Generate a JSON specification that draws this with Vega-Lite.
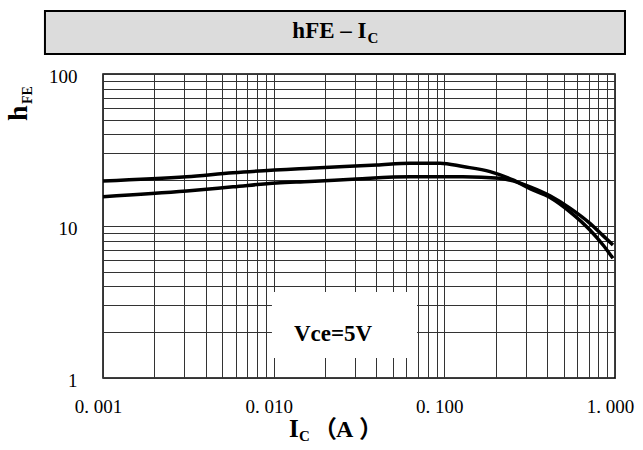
{
  "$schema": "https://vega.github.io/schema/vega-lite/v6.json",
  "width": 512,
  "height": 304,
  "autosize": {"type": "none"},
  "padding": {"left": 103, "top": 74, "right": 28, "bottom": 72},
  "background": "white",
  "config": {
    "view": {"stroke": "#000", "strokeWidth": 1.5},
    "axis": {
      "grid": true,
      "gridColor": "#333",
      "gridWidth": 1,
      "gridOpacity": 1,
      "ticks": false,
      "tickSize": 0,
      "domain": false,
      "labelFont": "'Liberation Serif', 'Times New Roman', serif",
      "labelFontSize": 19,
      "labelColor": "#000",
      "labelOverlap": false,
      "labelFlush": false
    },
    "text": {"font": "'Liberation Serif', 'Times New Roman', serif", "fontWeight": "bold", "color": "#000", "baseline": "alphabetic"}
  },
  "datasets": {
    "curves": [
      {"ic": 0.001, "hfe": 19.8, "curve": "upper"},
      {"ic": 0.00309, "hfe": 21.1, "curve": "upper"},
      {"ic": 0.00578, "hfe": 22.4, "curve": "upper"},
      {"ic": 0.0163, "hfe": 24.0, "curve": "upper"},
      {"ic": 0.0402, "hfe": 25.2, "curve": "upper"},
      {"ic": 0.063, "hfe": 25.9, "curve": "upper"},
      {"ic": 0.0944, "hfe": 25.9, "curve": "upper"},
      {"ic": 0.1285, "hfe": 24.6, "curve": "upper"},
      {"ic": 0.1854, "hfe": 22.8, "curve": "upper"},
      {"ic": 0.2522, "hfe": 20.1, "curve": "upper"},
      {"ic": 0.3177, "hfe": 17.6, "curve": "upper"},
      {"ic": 0.416, "hfe": 15.4, "curve": "upper"},
      {"ic": 0.5445, "hfe": 12.4, "curve": "upper"},
      {"ic": 0.713, "hfe": 9.41, "curve": "upper"},
      {"ic": 0.851, "hfe": 7.5, "curve": "upper"},
      {"ic": 0.973, "hfe": 6.13, "curve": "upper"},
      {"ic": 0.001, "hfe": 15.6, "curve": "lower"},
      {"ic": 0.00309, "hfe": 17.0, "curve": "lower"},
      {"ic": 0.00578, "hfe": 18.1, "curve": "lower"},
      {"ic": 0.0104, "hfe": 19.2, "curve": "lower"},
      {"ic": 0.0163, "hfe": 19.6, "curve": "lower"},
      {"ic": 0.0306, "hfe": 20.4, "curve": "lower"},
      {"ic": 0.063, "hfe": 21.1, "curve": "lower"},
      {"ic": 0.1285, "hfe": 21.1, "curve": "lower"},
      {"ic": 0.212, "hfe": 20.6, "curve": "lower"},
      {"ic": 0.2522, "hfe": 19.8, "curve": "lower"},
      {"ic": 0.3177, "hfe": 18.1, "curve": "lower"},
      {"ic": 0.416, "hfe": 15.8, "curve": "lower"},
      {"ic": 0.5445, "hfe": 13.1, "curve": "lower"},
      {"ic": 0.713, "hfe": 10.4, "curve": "lower"},
      {"ic": 0.851, "hfe": 8.64, "curve": "lower"},
      {"ic": 0.973, "hfe": 7.5, "curve": "lower"}
    ],
    "one": [{}]
  },
  "layer": [
    {
      "data": {"name": "curves"},
      "mark": {"type": "line", "color": "#000", "strokeWidth": 3.5, "interpolate": "monotone"},
      "encoding": {
        "x": {
          "field": "ic",
          "type": "quantitative",
          "scale": {"type": "log", "domain": [0.001, 1], "nice": false},
          "axis": {
            "title": null,
            "labelPadding": 19,
            "labelOffset": -5,
            "values": [0.001, 0.002, 0.003, 0.004, 0.005, 0.006, 0.007, 0.008, 0.009,
                       0.01, 0.02, 0.03, 0.04, 0.05, 0.06, 0.07, 0.08, 0.09,
                       0.1, 0.2, 0.3, 0.4, 0.5, 0.6, 0.7, 0.8, 0.9, 1],
            "labelExpr": "datum.value === 0.001 ? '0. 001' : datum.value === 0.01 ? '0. 010' : datum.value === 0.1 ? '0. 100' : datum.value === 1 ? '1. 000' : ''"
          }
        },
        "y": {
          "field": "hfe",
          "type": "quantitative",
          "scale": {"type": "log", "domain": [1, 100], "nice": false},
          "axis": {
            "title": null,
            "labelPadding": 26,
            "labelOffset": 2,
            "values": [1, 2, 3, 4, 5, 6, 7, 8, 9, 10, 20, 30, 40, 50, 60, 70, 80, 90, 100],
            "labelExpr": "datum.value === 1 ? '1' : datum.value === 10 ? '10' : datum.value === 100 ? '100' : ''"
          }
        },
        "detail": {"field": "curve", "type": "nominal"}
      }
    },
    {
      "data": {"name": "one"},
      "mark": {"type": "rect", "fill": "#fff", "stroke": null},
      "encoding": {
        "x": {"datum": 0.00977, "type": "quantitative"},
        "x2": {"datum": 0.0692},
        "y": {"datum": 3.68, "type": "quantitative"},
        "y2": {"datum": 1.355}
      }
    },
    {
      "data": {"name": "one"},
      "mark": {"type": "text", "text": "Vce=5V", "fontSize": 23, "align": "center", "baseline": "middle"},
      "encoding": {
        "x": {"datum": 0.02227, "type": "quantitative"},
        "y": {"datum": 1.947, "type": "quantitative"}
      }
    },
    {
      "data": {"name": "one"},
      "mark": {"type": "rect", "fill": "#dcdcdc", "stroke": "#000", "strokeWidth": 2},
      "encoding": {
        "x": {"datum": 0.000457, "type": "quantitative"},
        "x2": {"datum": 1.1443},
        "y": {"datum": 259.7, "type": "quantitative"},
        "y2": {"datum": 135.4}
      }
    },
    {
      "data": {"name": "one"},
      "mark": {"type": "text", "text": "hFE – I", "fontSize": 23, "align": "right"},
      "encoding": {
        "x": {"datum": 0.03499, "type": "quantitative"},
        "y": {"datum": 172.5, "type": "quantitative"}
      }
    },
    {
      "data": {"name": "one"},
      "mark": {"type": "text", "text": "C", "fontSize": 15, "align": "left", "dx": 1, "dy": 5},
      "encoding": {
        "x": {"datum": 0.03499, "type": "quantitative"},
        "y": {"datum": 172.5, "type": "quantitative"}
      }
    },
    {
      "data": {"name": "one"},
      "mark": {"type": "text", "text": "h", "fontSize": 28, "align": "left", "angle": 270},
      "encoding": {
        "x": {"datum": 0.0003587, "type": "quantitative"},
        "y": {"datum": 49.07, "type": "quantitative"}
      }
    },
    {
      "data": {"name": "one"},
      "mark": {"type": "text", "text": "FE", "fontSize": 14, "align": "left", "angle": 270, "dx": 17, "dy": 5},
      "encoding": {
        "x": {"datum": 0.0003587, "type": "quantitative"},
        "y": {"datum": 49.07, "type": "quantitative"}
      }
    },
    {
      "data": {"name": "one"},
      "mark": {"type": "text", "text": "I", "fontSize": 25, "align": "left"},
      "encoding": {
        "x": {"datum": 0.0123, "type": "quantitative"},
        "y": {"datum": 0.4091, "type": "quantitative"}
      }
    },
    {
      "data": {"name": "one"},
      "mark": {"type": "text", "text": "C", "fontSize": 15, "align": "left", "dx": 10, "dy": 4},
      "encoding": {
        "x": {"datum": 0.0123, "type": "quantitative"},
        "y": {"datum": 0.4091, "type": "quantitative"}
      }
    },
    {
      "data": {"name": "one"},
      "mark": {"type": "text", "text": "（", "font": "'Noto Sans CJK SC'", "fontSize": 24, "align": "left", "dx": 24},
      "encoding": {
        "x": {"datum": 0.0123, "type": "quantitative"},
        "y": {"datum": 0.4091, "type": "quantitative"}
      }
    },
    {
      "data": {"name": "one"},
      "mark": {"type": "text", "text": "A", "fontSize": 24, "align": "left", "dx": 47},
      "encoding": {
        "x": {"datum": 0.0123, "type": "quantitative"},
        "y": {"datum": 0.4091, "type": "quantitative"}
      }
    },
    {
      "data": {"name": "one"},
      "mark": {"type": "text", "text": "）", "font": "'Noto Sans CJK SC'", "fontSize": 24, "align": "left", "dx": 70},
      "encoding": {
        "x": {"datum": 0.0123, "type": "quantitative"},
        "y": {"datum": 0.4091, "type": "quantitative"}
      }
    }
  ]
}
